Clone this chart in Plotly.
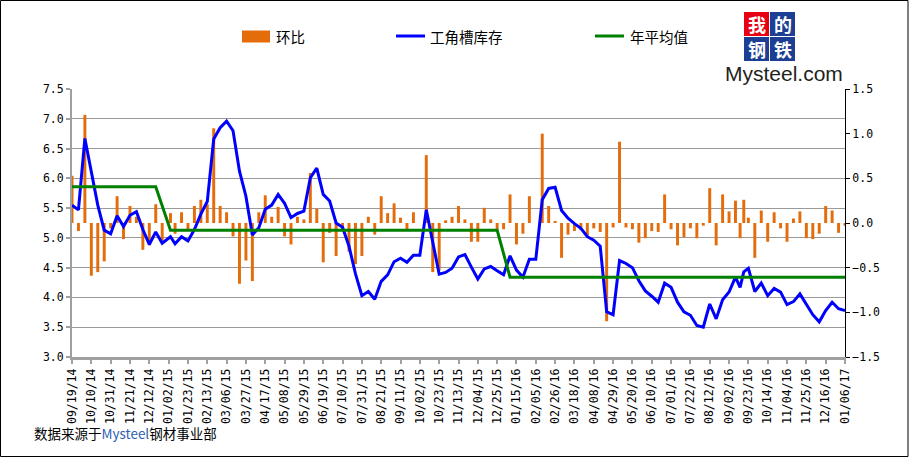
import plotly.graph_objects as go

# ---------------- data ----------------
dates = [
    "2014-09-19", "2014-09-26", "2014-10-03", "2014-10-10", "2014-10-17", "2014-10-24", "2014-10-31",
    "2014-11-07", "2014-11-14", "2014-11-21", "2014-11-28", "2014-12-05", "2014-12-12", "2014-12-19",
    "2014-12-26",
    "2015-01-04", "2015-01-09", "2015-01-16", "2015-01-23", "2015-01-30", "2015-02-06", "2015-02-13",
    "2015-02-20", "2015-02-27", "2015-03-06", "2015-03-13", "2015-03-20", "2015-03-27", "2015-04-03",
    "2015-04-10", "2015-04-17", "2015-04-24", "2015-05-01", "2015-05-08", "2015-05-15", "2015-05-22",
    "2015-05-29", "2015-06-05", "2015-06-12", "2015-06-19", "2015-06-26", "2015-07-03", "2015-07-10",
    "2015-07-17", "2015-07-24", "2015-07-31", "2015-08-07", "2015-08-14", "2015-08-21", "2015-08-28",
    "2015-09-04", "2015-09-11", "2015-09-18", "2015-09-25", "2015-10-02", "2015-10-09", "2015-10-16",
    "2015-10-23", "2015-10-30", "2015-11-06", "2015-11-13", "2015-11-20", "2015-11-27", "2015-12-04",
    "2015-12-11", "2015-12-18", "2015-12-25",
    "2016-01-01", "2016-01-08", "2016-01-15", "2016-01-22", "2016-01-29", "2016-02-05", "2016-02-12",
    "2016-02-19", "2016-02-26", "2016-03-04", "2016-03-11", "2016-03-18", "2016-03-25", "2016-04-01",
    "2016-04-08", "2016-04-15", "2016-04-22", "2016-04-29", "2016-05-06", "2016-05-13", "2016-05-20",
    "2016-05-27", "2016-06-03", "2016-06-10", "2016-06-17", "2016-06-24", "2016-07-01", "2016-07-08",
    "2016-07-15", "2016-07-22", "2016-07-29", "2016-08-05", "2016-08-12", "2016-08-19", "2016-08-26",
    "2016-09-02", "2016-09-09", "2016-09-14", "2016-09-18", "2016-09-23", "2016-09-30", "2016-10-07",
    "2016-10-14", "2016-10-21", "2016-10-28", "2016-11-04", "2016-11-11", "2016-11-18", "2016-11-25",
    "2016-12-02", "2016-12-09", "2016-12-16", "2016-12-23", "2016-12-30", "2017-01-06",
]

# 环比 (week-on-week change, right axis)
change = [
    0.53, -0.09, 1.21, -0.59, -0.55, -0.43, -0.06, 0.30, -0.18, 0.19,
    0.07, -0.30, -0.25, 0.21, -0.20, 0.11, -0.12, 0.12, -0.07, 0.19,
    0.26, 0.21, 1.06, 0.19, 0.12, -0.15, -0.68, -0.42, -0.65, 0.12,
    0.31, 0.07, 0.18, -0.15, -0.24, 0.07, 0.04, 0.56, 0.16, -0.44,
    -0.11, -0.37, -0.07, -0.32, -0.46, -0.37, 0.07, -0.13, 0.30, 0.11,
    0.22, 0.06, -0.07, 0.12, 0.00, 0.76, -0.55, -0.53, 0.03, 0.07,
    0.19, 0.04, -0.21, -0.21, 0.17, 0.04, -0.07, -0.07, 0.32, -0.24,
    -0.12, 0.30, 0.00, 1.00, 0.19, 0.02, -0.39, -0.13, -0.09, -0.08,
    -0.14, -0.06, -0.10, -1.10, -0.05, 0.91, -0.05, -0.07, -0.22, -0.17,
    -0.09, -0.10, 0.32, -0.07, -0.25, -0.16, -0.06, -0.17, -0.03, 0.39,
    -0.25, 0.32, 0.13, 0.25, -0.17, 0.26, 0.06, -0.39, 0.14, -0.21,
    0.12, -0.06, -0.21, 0.05, 0.13, -0.17, -0.18, -0.12, 0.19, 0.14,
    -0.11, -0.03,
]

# 工角槽库存 (left axis)
stock = [
    5.55, 5.47, 6.67, 6.09, 5.55, 5.13, 5.07, 5.37, 5.19, 5.38,
    5.44, 5.14, 4.89, 5.10, 4.91, 5.02, 4.90, 5.02, 4.95, 5.14,
    5.40, 5.61, 6.66, 6.85, 6.96, 6.80, 6.12, 5.70, 5.05, 5.17,
    5.48, 5.55, 5.73, 5.58, 5.34, 5.41, 5.45, 6.01, 6.17, 5.73,
    5.62, 5.25, 5.18, 4.86, 4.40, 4.03, 4.10, 3.97, 4.27, 4.38,
    4.60, 4.66, 4.59, 4.71, 4.71, 5.47, 4.92, 4.39, 4.42, 4.49,
    4.68, 4.72, 4.51, 4.31, 4.48, 4.52, 4.45, 4.38, 4.70, 4.46,
    4.34, 4.64, 4.64, 5.64, 5.83, 5.85, 5.46, 5.33, 5.24, 5.16,
    5.02, 4.96, 4.86, 3.76, 3.71, 4.62, 4.57, 4.50, 4.28, 4.11,
    4.02, 3.92, 4.24, 4.17, 3.92, 3.76, 3.70, 3.53, 3.50, 3.89,
    3.64, 3.96, 4.09, 4.34, 4.17, 4.43, 4.49, 4.10, 4.24, 4.03,
    4.15, 4.09, 3.88, 3.93, 4.06, 3.89, 3.71, 3.59, 3.78, 3.92,
    3.81, 3.78,
]

# 年平均值 (left axis); None = no value at the year changeover
annual_avg = [
    5.86, 5.86, 5.86, 5.86, 5.86, 5.86, 5.86, 5.86, 5.86, 5.86,
    5.86, 5.86, 5.86, 5.86, None, 5.13, 5.13, 5.13, 5.13, 5.13,
    5.13, 5.13, 5.13, 5.13, 5.13, 5.13, 5.13, 5.13, 5.13, 5.13,
    5.13, 5.13, 5.13, 5.13, 5.13, 5.13, 5.13, 5.13, 5.13, 5.13,
    5.13, 5.13, 5.13, 5.13, 5.13, 5.13, 5.13, 5.13, 5.13, 5.13,
    5.13, 5.13, 5.13, 5.13, 5.13, 5.13, 5.13, 5.13, 5.13, 5.13,
    5.13, 5.13, 5.13, 5.13, 5.13, 5.13, 5.13, None, 4.34, 4.34,
    4.34, 4.34, 4.34, 4.34, 4.34, 4.34, 4.34, 4.34, 4.34, 4.34,
    4.34, 4.34, 4.34, 4.34, 4.34, 4.34, 4.34, 4.34, 4.34, 4.34,
    4.34, 4.34, 4.34, 4.34, 4.34, 4.34, 4.34, 4.34, 4.34, 4.34,
    4.34, 4.34, 4.34, 4.34, 4.34, 4.34, 4.34, 4.34, 4.34, 4.34,
    4.34, 4.34, 4.34, 4.34, 4.34, 4.34, 4.34, 4.34, 4.34, 4.34,
    4.34, 4.34,
]

series_names = ["环比", "工角槽库存", "年平均值"]
source_note = "数据来源于<span style='color:#2F5FB3'>Mysteel</span>钢材事业部"

# ---------------- figure ----------------
W, H = 910, 458
L, R, T, B = 72, 65, 89, 101
PW, PH = W - L - R, H - T - B


def px(x):
    return (x - L) / PW


def py(y):
    return (H - B - y) / PH


ORANGE, BLUE, GREEN = "#E46C0A", "#0000FF", "#008000"
DAY = 86400000

fig = go.Figure()
fig.add_trace(go.Bar(x=dates, y=change, name=series_names[0], yaxis="y",
                     marker=dict(color=ORANGE, line=dict(width=0)), width=3.2 * DAY))
fig.add_trace(go.Scatter(x=dates, y=stock, name=series_names[1], yaxis="y2", mode="lines",
                         line=dict(color=BLUE, width=3)))
fig.add_trace(go.Scatter(x=dates, y=annual_avg, name=series_names[2], yaxis="y2", mode="lines",
                         connectgaps=True, line=dict(color=GREEN, width=3)))

tickfont = dict(family="DejaVu Sans Mono", size=11.5, color="black")

fig.update_layout(
    width=W, height=H,
    margin=dict(l=L, r=R, t=T, b=B),
    paper_bgcolor="white", plot_bgcolor="white",
    showlegend=False,
    xaxis=dict(type="date", range=["2014-09-19", "2017-01-06"],
               tick0="2014-09-19", dtick=21 * DAY, tickformat="%m/%d/%y",
               tickangle=-90, showgrid=False, zeroline=False,
               showline=True, linecolor="#A0A0A0", linewidth=3,
               ticks="outside", ticklen=4, tickwidth=2, tickcolor="#A0A0A0",
               tickfont=tickfont),
    yaxis=dict(side="right", range=[-1.5, 1.5], tick0=0, dtick=0.5, tickformat=".1f",
               showgrid=False, zeroline=False, showline=True, linecolor="black",
               linewidth=1, ticks="outside", ticklen=4, tickcolor="black",
               tickfont=tickfont),
    yaxis2=dict(overlaying="y", side="left", range=[3, 7.5], tick0=3, dtick=0.5,
                tickformat=".1f", showgrid=True, gridcolor="#9A9A9A", gridwidth=1,
                zeroline=False, showline=True, linecolor="#A0A0A0", linewidth=2,
                ticks="outside", ticklen=4, tickwidth=2, tickcolor="#A0A0A0",
                tickfont=tickfont),
)

shapes = []
annotations = []

# outer border
shapes.append(dict(type="rect", xref="paper", yref="paper",
                   x0=px(0.5), x1=px(908), y0=py(0.5), y1=py(456.5),
                   line=dict(color="black", width=1), fillcolor="rgba(0,0,0,0)"))

# legend
lg_font = dict(family="Noto Sans CJK SC", size=14.5, color="black")
lg_y = 36
shapes.append(dict(type="rect", xref="paper", yref="paper",
                   x0=px(242), x1=px(270), y0=py(30.5), y1=py(42.5),
                   line=dict(width=0), fillcolor=ORANGE))
shapes.append(dict(type="line", xref="paper", yref="paper",
                   x0=px(396), x1=px(425), y0=py(lg_y), y1=py(lg_y),
                   line=dict(color=BLUE, width=3)))
shapes.append(dict(type="line", xref="paper", yref="paper",
                   x0=px(595), x1=px(624), y0=py(lg_y), y1=py(lg_y),
                   line=dict(color=GREEN, width=3)))
for xx, name in zip([274, 428, 628], series_names):
    annotations.append(dict(xref="paper", yref="paper", x=px(xx), y=py(lg_y),
                            xanchor="left", yanchor="middle", showarrow=False,
                            text=name, font=lg_font))

# logo
logo_boxes = [("我", 744, 12, "#E60012"), ("的", 770, 12, "#1D3F93"),
              ("钢", 744, 37, "#1D3F93"), ("铁", 770, 37, "#1D3F93")]
for ch, bx, by, col in logo_boxes:
    shapes.append(dict(type="rect", xref="paper", yref="paper",
                       x0=px(bx), x1=px(bx + 25), y0=py(by), y1=py(by + 24),
                       line=dict(width=0), fillcolor=col))
    annotations.append(dict(xref="paper", yref="paper", x=px(bx + 12.5), y=py(by + 12),
                            xanchor="center", yanchor="middle", showarrow=False,
                            text="<b>" + ch + "</b>", borderpad=0,
                            font=dict(family="Noto Sans CJK SC", size=18, color="white")))
annotations.append(dict(xref="paper", yref="paper", x=px(784), y=py(74),
                        xanchor="center", yanchor="middle", showarrow=False,
                        text="Mysteel.com", borderpad=0,
                        font=dict(family="Liberation Sans", size=21, color="#231F20")))

# source note
annotations.append(dict(xref="paper", yref="paper", x=px(32), y=py(433),
                        xanchor="left", yanchor="middle", showarrow=False,
                        text=source_note,
                        font=dict(family="Noto Sans CJK SC", size=13.5, color="black")))

fig.update_layout(shapes=shapes, annotations=annotations)

fig.write_html("out.html", config={"displayModeBar": False},
               post_script="document.body.style.margin='0';document.body.style.padding='0';")
